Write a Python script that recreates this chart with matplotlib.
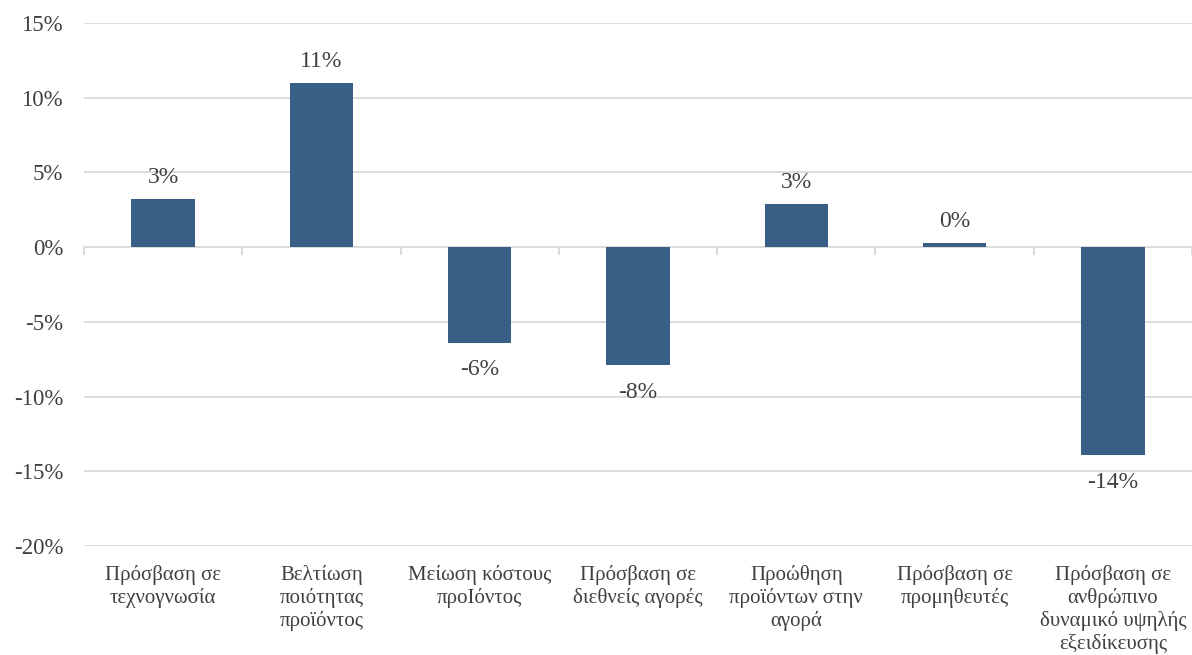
import numpy as np
import matplotlib.pyplot as plt
from matplotlib.ticker import FuncFormatter

plt.rcParams['font.family'] = 'serif'
plt.rcParams['font.serif'] = ['Liberation Serif', 'Times New Roman', 'DejaVu Serif']

categories = [
    "Πρόσβαση σε\nτεχνογνωσία",
    "Βελτίωση\nποιότητας\nπροϊόντος",
    "Μείωση κόστους\nπροΙόντος",
    "Πρόσβαση σε\nδιεθνείς αγορές",
    "Προώθηση\nπροϊόντων στην\nαγορά",
    "Πρόσβαση σε\nπρομηθευτές",
    "Πρόσβαση σε\nανθρώπινο\nδυναμικό υψηλής\nεξειδίκευσης",
]
values = [3.2, 11.0, -6.4, -7.9, 2.9, 0.3, -13.9]

bar_color = "#3A5F87"
text_color = "#404040"
grid_color = "#D9D9D9"

fig = plt.figure(figsize=(11.92, 6.55), dpi=100)
ax = fig.add_axes([84 / 1192, 1 - 546 / 655, 1 - 84 / 1192, (546 - 23) / 655])

x = np.arange(len(categories))
bars = ax.bar(x, values, width=0.4, color=bar_color, zorder=3)

ymin, ymax = -20, 15
ax.set_ylim(ymin, ymax)
ax.set_xlim(-0.5, len(categories) - 0.5)
ax.set_yticks(np.arange(ymin, ymax + 1, 5))
ax.yaxis.set_major_formatter(FuncFormatter(lambda v, _: f"{v:.0f}%"))
ax.grid(axis="y", color=grid_color, linewidth=1.3, zorder=0)
ax.tick_params(axis="y", length=0, labelsize=16.5, labelcolor=text_color, pad=15)

ax.set_xticks(x)
ax.set_xticklabels(categories, fontsize=15, color=text_color, linespacing=1.2, va="top")
ax.tick_params(axis="x", length=0, pad=14)
for s in ax.spines.values():
    s.set_visible(False)

# zero line with category separators
zero_loc = (0 - ymin) / (ymax - ymin)
sec = ax.secondary_xaxis(zero_loc)
sec.set_xticks(np.arange(-0.5, len(categories), 1.0))
sec.set_xticklabels([])
sec.xaxis.set_ticks_position("bottom")
sec.tick_params(axis="x", direction="out", length=6, color=grid_color, width=1.3,
                labelbottom=False, labeltop=False)
sec.spines["bottom"].set_color(grid_color)
sec.spines["bottom"].set_linewidth(1.3)
for side in ("top", "left", "right"):
    sec.spines[side].set_visible(False)

for b, v in zip(bars, values):
    off = 8 if v >= 0 else -12
    ax.annotate(f"{v:.0f}%", (b.get_x() + b.get_width() / 2, v),
                xytext=(0, off), textcoords="offset points",
                ha="center", va="bottom" if v >= 0 else "top",
                fontsize=17, color=text_color)

fig.savefig("out.png", dpi=100)
